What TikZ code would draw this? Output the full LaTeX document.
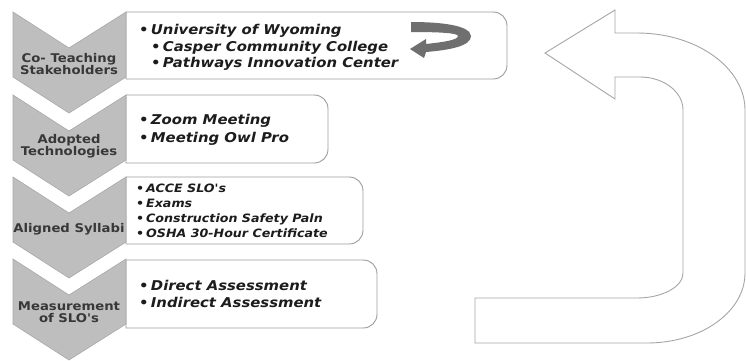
\documentclass[tikz,border=0pt]{standalone}
\usepackage{fontspec}
\setmainfont{DejaVu Sans}
\newfontfamily\widesans[FakeStretch=1.1]{DejaVu Sans}
\begin{document}
\definecolor{chevfill}{HTML}{BEBEBE}
\definecolor{chevedge}{HTML}{A8A8A8}
\definecolor{boxedge}{HTML}{9C9C9C}
\definecolor{labeltext}{HTML}{383838}
\definecolor{itemtext}{HTML}{1C1C1C}
\definecolor{turnfill}{HTML}{6F6F6F}
\definecolor{bigedge}{HTML}{A6A6A6}
\begin{tikzpicture}[x=1pt,y=-1pt,
  chevron/.style={fill=chevfill,draw=chevedge,line width=0.6pt},
  listbox/.style={fill=white,draw=boxedge,line width=0.9pt},
  chevlabel/.style={text=labeltext,font=\widesans\fontsize{12}{12.5}\selectfont\bfseries,align=center,inner sep=0pt},
  item/.style={text=itemtext,font=\widesans\fontsize{13.5}{16}\selectfont\bfseries\itshape,anchor=base west,inner sep=0pt},
  smallitem/.style={text=itemtext,font=\widesans\fontsize{11.5}{14}\selectfont\bfseries\itshape,anchor=base west,inner sep=0pt}]
\useasboundingbox (0,0) rectangle (746,360);
\fill[white] (0,0) rectangle (746,360);

% rounded list boxes, square on the chevron side
\foreach \t/\b/\r in {12/79/507, 95/163/328, 177/244/363, 260/328/377}{
  \draw[listbox] (126,\t) -- (\r-14,\t) .. controls (\r-6,\t) and (\r,\t+6) .. (\r,\t+14)
    -- (\r,\b-14) .. controls (\r,\b-6) and (\r-6,\b) .. (\r-14,\b) -- (126,\b) -- cycle;
}

% chevrons
\foreach \t in {12,95,177,259}{
  \draw[chevron] (13,\t) -- (69,\t+36) -- (126,\t) -- (126,\t+65) -- (69,\t+101) -- (13,\t+65) -- cycle;
}

% chevron labels
\node[chevlabel] (lab1) at (69,64) {Co- Teaching\\Stakeholders};
\node[chevlabel] (lab2) at (69,146) {Adopted\\Technologies};
\node[chevlabel] (lab3) at (69,229) {Aligned Syllabi};
\node[chevlabel] (lab4) at (69,312) {Measurement\\of SLO's};

% list items
\node[item] (s1) at (139,34) {•\,University of Wyoming};
\node[item] (s2) at (151,51) {•\,Casper Community College};
\node[item] (s3) at (151,67) {•\,Pathways Innovation Center};

\node[item] (t1) at (139,124) {•\,Zoom Meeting};
\node[item] (t2) at (139,142) {•\,Meeting Owl Pro};

\node[smallitem] (a1) at (136,192) {•\,ACCE SLO's};
\node[smallitem] (a2) at (136,207) {•\,Exams};
\node[smallitem] (a3) at (136,222) {•\,Construction Safety Paln};
\node[smallitem] (a4) at (136,237) {•\,OSHA 30-Hour Certificate};

\node[item] (m1) at (139,290) {•\,Direct Assessment};
\node[item] (m2) at (139,307) {•\,Indirect Assessment};

% small curved return arrow inside the first box
\fill[turnfill] (411,22) .. controls (440,22) and (470,25) .. (471,36)
  .. controls (471,46) and (450,50) .. (426,52) -- (424,58) -- (410,49) -- (426,39) -- (426,44)
  .. controls (444,42) and (458,40) .. (458,36) .. controls (458,33) and (440,32) .. (411,32) -- cycle;

% large U-turn arrow
\draw[fill=white,draw=bigedge,line width=0.9pt]
  (545,53) -- (615,10) -- (615,33) -- (637,33)
  .. controls (697,33) and (745,68) .. (745,110) -- (745,273)
  .. controls (745,312) and (701,343) .. (647,343) -- (475,343) -- (475,298) -- (637,298)
  .. controls (662,298) and (683,287) .. (683,273) -- (683,110)
  .. controls (683,92) and (664,77) .. (640,77) -- (615,77) -- (615,99) -- cycle;
\end{tikzpicture}
\end{document}
